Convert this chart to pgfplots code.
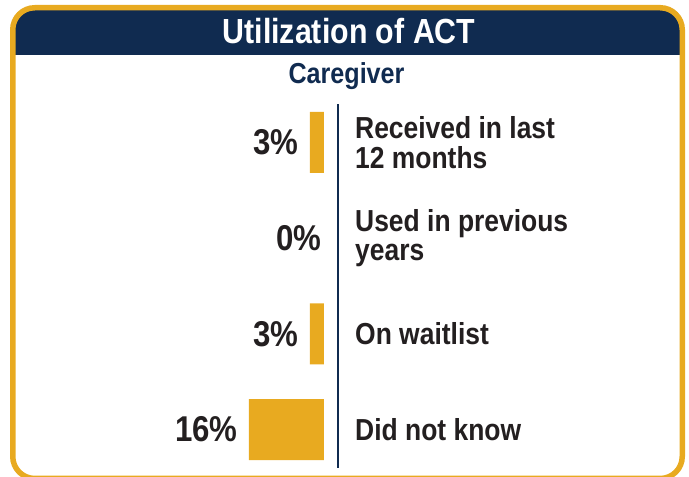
\documentclass[border=0pt]{standalone}
\usepackage{pgfplots}
\pgfplotsset{compat=1.18}
\usepackage{fontspec}
\setmainfont{Liberation Sans}
\newfontfamily\cond[FakeStretch=0.87]{Liberation Sans}
\definecolor{navy}{RGB}{16,43,80}
\definecolor{gold}{RGB}{232,170,32}
\definecolor{ink}{RGB}{35,31,32}
\begin{document}
\begin{tikzpicture}[x=1bp,y=1bp]
% frame
\begin{scope}
\clip[rounded corners=22bp] (12.75,-1.5) rectangle (682.25,469.25);
\fill[navy] (0,422) rectangle (689,477);
\end{scope}
\draw[gold, line width=5.5bp, rounded corners=22bp] (12.75,-1.5) rectangle (682.25,469.25);
\node[anchor=base, text=white, inner sep=0pt] at (349,433) {\cond\bfseries\fontsize{35}{35}\selectfont Utilization of ACT};
\node[anchor=base, text=navy, inner sep=0pt] at (346.5,393) {\cond\bfseries\fontsize{29}{29}\selectfont Caregiver};
\begin{axis}[
  at={(42.7bp,9.1bp)}, anchor=south west,
  scale only axis, width=295.3bp, height=363.7bp,
  xbar, bar width=61bp, bar shift=0pt,
  x dir=reverse, y dir=reverse,
  xmin=-3, xmax=60, ymin=-0.4, ymax=3.4,
  axis line style={draw=none},
  xtick=\empty,
  ytick={0,1,2,3},
  yticklabels={{Received in last\\12 months},{Used in previous\\years},{On waitlist},{Did not know}},
  yticklabel pos=right,
  major tick length=0pt,
  ytick style={draw=none},
  yticklabel style={inner sep=0pt, anchor=west, align=left, text=ink, xshift=17bp,
    font={\cond\bfseries\fontsize{30.5}{30}\selectfont}},
  clip=false,
  /pgf/number format/assume math mode=true,
  point meta=x,
  nodes near coords={\pgfmathprintnumber{\pgfplotspointmeta}\%},
  every node near coord/.append style={anchor=east, inner sep=0pt, text=ink,
    font={\cond\bfseries\fontsize{36}{36}\selectfont}},
]
\addplot[fill=gold, draw=none, nodes near coords style={xshift=-11bp}]
  coordinates {(3,0) (3,2) (16,3)};
\addplot[fill=none, draw=none, nodes near coords style={xshift=-2bp}]
  coordinates {(0,1)};
\draw[navy, line width=2bp] (axis cs:-3,-0.4) -- (axis cs:-3,3.4);
\end{axis}
\pgfresetboundingbox
\useasboundingbox (0,0) rectangle (689,477);
\end{tikzpicture}
\end{document}
